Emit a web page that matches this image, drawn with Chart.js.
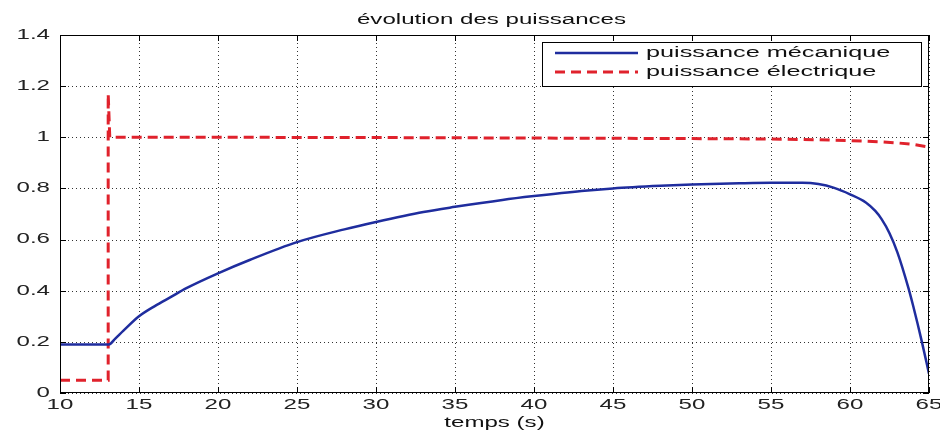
<!DOCTYPE html>
<html>
<head>
<meta charset="utf-8">
<script src="https://cdn.jsdelivr.net/npm/chart.js@4/dist/chart.umd.min.js"></script>
<style>
  html, body { margin: 0; padding: 0; background: #fff; }
  #wrap { width: 940px; height: 432px; }
</style>
</head>
<body>
<div id="wrap"><canvas id="c" width="940" height="432"></canvas></div>
<script>
// ---- data ----
const titleText = 'évolution des puissances';
const xLabelText = 'temps (s)';
const seriesNames = ['puissance mécanique', 'puissance électrique'];

const xTickValues = [10, 15, 20, 25, 30, 35, 40, 45, 50, 55, 60, 65];
const xTickLabels = ['10', '15', '20', '25', '30', '35', '40', '45', '50', '55', '60', '65'];
const yTickValues = [0, 0.2, 0.4, 0.6, 0.8, 1, 1.2, 1.4];
const yTickLabels = ['0', '0.2', '0.4', '0.6', '0.8', '1', '1.2', '1.4'];

const mecaTime  = [10, 13.1, 13.5, 14, 15, 16, 17, 18, 20, 22, 25, 28, 30, 33, 35, 38, 40, 43, 45, 48, 50, 53, 55, 57, 58, 59, 60, 61, 61.6, 62, 62.5, 63, 63.7, 64, 64.55, 65];
const mecaPower = [0.19, 0.19, 0.213, 0.243, 0.30, 0.34, 0.375, 0.41, 0.468, 0.52, 0.59, 0.64, 0.669, 0.708, 0.728, 0.755, 0.770, 0.790, 0.800, 0.810, 0.815, 0.820, 0.822, 0.822, 0.817, 0.802, 0.777, 0.745, 0.712, 0.68, 0.625, 0.55, 0.41, 0.34, 0.20, 0.075];

const elecTime  = [10, 13.05, 13.05, 13.15, 20, 30, 40, 50, 55, 58, 60, 62, 63, 64, 65];
const elecPower = [0.05, 0.05, 1.17, 1.0, 1.0, 0.999, 0.997, 0.995, 0.993, 0.990, 0.987, 0.982, 0.978, 0.972, 0.962];

// ---- styles ----
const BLUE = '#1f2d9e';
const RED = '#e0222c';
const FONT = '"Liberation Sans", Arial, sans-serif';
const SX = 1.72; // horizontal stretch of the text glyphs

const toXY = (xs, ys) => xs.map((x, i) => ({ x: x, y: ys[i] }));

function stretchedText(ctx, text, x, y, size, align, baseline, color) {
  ctx.save();
  ctx.font = size + 'px ' + FONT;
  ctx.fillStyle = color || '#000';
  ctx.textAlign = align;
  ctx.textBaseline = baseline;
  ctx.translate(x, y);
  ctx.scale(SX, 1);
  ctx.fillText(text, 0, 0);
  ctx.restore();
}

const matlabLook = {
  id: 'matlabLook',
  beforeDraw(chart) {
    const ctx = chart.ctx;
    ctx.save();
    ctx.fillStyle = '#fff';
    ctx.fillRect(0, 0, chart.width, chart.height);
    ctx.restore();
  },
  beforeDatasetsDraw(chart) {
    // dotted MATLAB grid at the scale ticks
    const ctx = chart.ctx;
    const { left, right, top, bottom } = chart.chartArea;
    const xs = chart.scales.x, ys = chart.scales.y;
    ctx.save();
    ctx.strokeStyle = '#333';
    ctx.lineWidth = 1;
    ctx.setLineDash([1, 3]);
    ctx.beginPath();
    xTickValues.forEach(v => {
      const px = Math.round(xs.getPixelForValue(v)) + 0.5;
      ctx.moveTo(px, top); ctx.lineTo(px, bottom);
    });
    yTickValues.forEach(v => {
      const py = Math.round(ys.getPixelForValue(v)) + 0.5;
      ctx.moveTo(left, py); ctx.lineTo(right, py);
    });
    ctx.stroke();
    ctx.restore();
  },
  afterDraw(chart) {
    const ctx = chart.ctx;
    const { left, right, top, bottom } = chart.chartArea;
    const xs = chart.scales.x, ys = chart.scales.y;

    // axes box + inside ticks
    ctx.save();
    ctx.strokeStyle = '#000';
    ctx.lineWidth = 1;
    ctx.strokeRect(Math.round(left) + 0.5, Math.round(top) + 0.5, Math.round(right - left) - 1, Math.round(bottom - top) - 1);
    ctx.beginPath();
    xTickValues.forEach(v => {
      const px = Math.round(xs.getPixelForValue(v)) + 0.5;
      ctx.moveTo(px, bottom); ctx.lineTo(px, bottom - 6);
      ctx.moveTo(px, top); ctx.lineTo(px, top + 6);
    });
    yTickValues.forEach(v => {
      const py = Math.round(ys.getPixelForValue(v)) + 0.5;
      ctx.moveTo(left, py); ctx.lineTo(left + 6, py);
      ctx.moveTo(right, py); ctx.lineTo(right - 6, py);
    });
    ctx.stroke();
    ctx.restore();

    // tick labels
    xTickValues.forEach((v, i) => {
      stretchedText(ctx, xTickLabels[i], xs.getPixelForValue(v), bottom + 12, 14, 'center', 'middle', '#222');
    });
    yTickValues.forEach((v, i) => {
      stretchedText(ctx, yTickLabels[i], left - 10, ys.getPixelForValue(v), 14, 'right', 'middle', '#222');
    });

    // title and axis label
    stretchedText(ctx, titleText, (left + right) / 2 - 3, 20, 14, 'center', 'middle', '#111');
    stretchedText(ctx, xLabelText, (left + right) / 2, 423, 14, 'center', 'middle', '#111');

    // legend
    const lx = 542, ly = 42, lw = 379, lh = 44;
    ctx.save();
    ctx.fillStyle = '#fff';
    ctx.fillRect(lx, ly, lw, lh);
    ctx.strokeStyle = '#000';
    ctx.lineWidth = 1;
    ctx.strokeRect(lx + 0.5, ly + 0.5, lw, lh);
    ctx.lineWidth = 2.5;
    ctx.strokeStyle = BLUE;
    ctx.beginPath(); ctx.moveTo(555, 53); ctx.lineTo(638, 53); ctx.stroke();
    ctx.strokeStyle = RED;
    ctx.lineWidth = 3;
    ctx.setLineDash([10, 6]);
    ctx.beginPath(); ctx.moveTo(555, 72); ctx.lineTo(638, 72); ctx.stroke();
    ctx.restore();
    stretchedText(ctx, seriesNames[0], 646, 53, 14.7, 'left', 'middle', '#111');
    stretchedText(ctx, seriesNames[1], 646, 72, 14.7, 'left', 'middle', '#111');
  }
};

new Chart(document.getElementById('c'), {
  type: 'scatter',
  data: {
    datasets: [
      {
        label: seriesNames[0],
        data: toXY(mecaTime, mecaPower),
        showLine: true,
        borderColor: BLUE,
        backgroundColor: BLUE,
        borderWidth: 2.5,
        pointRadius: 0,
        cubicInterpolationMode: 'monotone',
        fill: false
      },
      {
        label: seriesNames[1],
        data: toXY(elecTime, elecPower),
        showLine: true,
        borderColor: RED,
        backgroundColor: RED,
        borderWidth: 3,
        borderDash: [10, 6],
        pointRadius: 0,
        tension: 0,
        fill: false
      }
    ]
  },
  options: {
    responsive: false,
    animation: false,
    devicePixelRatio: 1,
    layout: { padding: { left: 60, top: 35, right: 11, bottom: 39 } },
    plugins: {
      legend: { display: false },
      title: { display: false },
      tooltip: { enabled: false }
    },
    scales: {
      x: {
        type: 'linear',
        min: 10, max: 65,
        afterBuildTicks: s => { s.ticks = xTickValues.map(v => ({ value: v })); },
        ticks: { display: false },
        grid: { display: false, drawTicks: false },
        border: { display: false }
      },
      y: {
        type: 'linear',
        min: 0, max: 1.4,
        afterBuildTicks: s => { s.ticks = yTickValues.map(v => ({ value: v })); },
        ticks: { display: false },
        grid: { display: false, drawTicks: false },
        border: { display: false }
      }
    }
  },
  plugins: [matlabLook]
});
</script>
</body>
</html>
